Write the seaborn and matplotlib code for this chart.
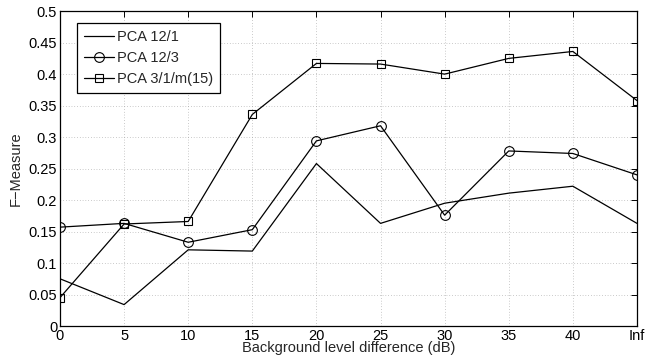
import numpy as np
import pandas as pd
import matplotlib
matplotlib.use("Agg")
import matplotlib.pyplot as plt
import seaborn as sns

# Data
x_labels = ["0", "5", "10", "15", "20", "25", "30", "35", "40", "Inf"]
pca_12_1 = [0.075, 0.034, 0.121, 0.119, 0.258, 0.163, 0.195, 0.211, 0.222, 0.163]
pca_12_3 = [0.157, 0.163, 0.133, 0.153, 0.294, 0.318, 0.176, 0.278, 0.274, 0.240]
pca_3_1_m15 = [0.045, 0.162, 0.166, 0.336, 0.417, 0.416, 0.400, 0.425, 0.436, 0.358]
series_names = ["PCA 12/1", "PCA 12/3", "PCA 3/1/m(15)"]
y_ticks = [0, 0.05, 0.1, 0.15, 0.2, 0.25, 0.3, 0.35, 0.4, 0.45, 0.5]

sns.set_style("white")
plt.rcParams["font.family"] = ["Liberation Sans", "DejaVu Sans"]
plt.rcParams["font.size"] = 10.5

pos = np.arange(len(x_labels))

fig = plt.figure(figsize=(6.47, 3.6), dpi=100)
ax = fig.add_axes([0.0927, 0.0944, 0.8918, 0.8746])

styles = [dict(marker=None), dict(marker="o", markersize=7), dict(marker="s", markersize=5.8)]
for name, vals, st in zip(series_names, [pca_12_1, pca_12_3, pca_3_1_m15], styles):
    sns.lineplot(x=pos, y=vals, color="black", linewidth=0.9, label=name,
                 markerfacecolor="none", markeredgecolor="black",
                 markeredgewidth=0.8, ax=ax, **st)

ax.set_xlim(0, len(x_labels) - 1)
ax.set_ylim(0, 0.5)
ax.set_xticks(pos)
ax.set_xticklabels(x_labels)
ax.set_yticks(y_ticks)
ax.set_yticklabels([f"{t:g}" for t in y_ticks])
ax.set_xlabel("Background level difference (dB)", labelpad=-1)
ax.set_ylabel("F\u2212Measure", labelpad=4)

ax.grid(True, color="#999999", linestyle=(0, (1, 3)), linewidth=0.5)
ax.tick_params(direction="in", length=4, width=0.7, top=True, right=True,
               labelsize=10.5, pad=2, colors="black")
for sp in ax.spines.values():
    sp.set_visible(True)
    sp.set_color("black")
    sp.set_linewidth(0.9)

handles, labels = ax.get_legend_handles_labels()
leg = ax.legend(handles, labels, loc="upper left", bbox_to_anchor=(0.03, 0.962),
                frameon=True, fancybox=False, edgecolor="black", framealpha=1,
                handlelength=2.1, handletextpad=0.2, borderpad=0.45,
                borderaxespad=0, labelspacing=0.5, fontsize=10.5)
leg.get_frame().set_linewidth(0.9)

fig.savefig("out.png", dpi=100)
plt.close(fig)
